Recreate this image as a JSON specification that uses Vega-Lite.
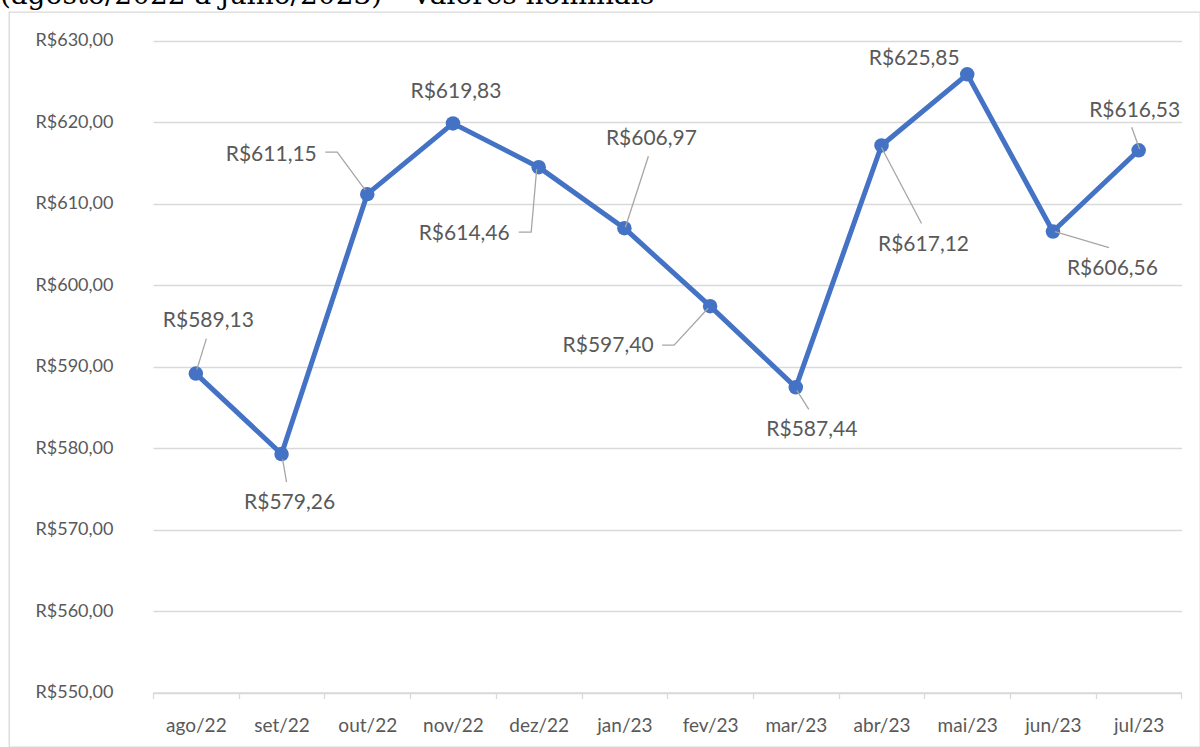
{
  "$schema": "https://vega.github.io/schema/vega-lite/v6.json",
  "autosize": {"type": "none"},
  "padding": {"left": 9, "top": 12, "right": 0, "bottom": 0},
  "width": 1191,
  "height": 735,
  "background": "#ffffff",
  "config": {
    "view": {"stroke": "#d9d9d9", "strokeWidth": 1.3},
    "locale": {"number": {"decimal": ",", "thousands": ".", "grouping": [3], "currency": ["R$", ""]}}
  },
  "title": {
    "text": "(agosto/2022 a julho/2023) – valores nominais",
    "orient": "top",
    "anchor": "start",
    "frame": "group",
    "font": "DejaVu Serif",
    "fontSize": 28,
    "fontWeight": "normal",
    "color": "#000000",
    "baseline": "alphabetic",
    "offset": 0,
    "dx": -9,
    "dy": 20
  },
  "data": {
    "values": [
      {"m": "ago/22", "v": 589.13},
      {"m": "set/22", "v": 579.26},
      {"m": "out/22", "v": 611.15},
      {"m": "nov/22", "v": 619.83},
      {"m": "dez/22", "v": 614.46},
      {"m": "jan/23", "v": 606.97},
      {"m": "fev/23", "v": 597.40},
      {"m": "mar/23", "v": 587.44},
      {"m": "abr/23", "v": 617.12},
      {"m": "mai/23", "v": 625.85},
      {"m": "jun/23", "v": 606.56},
      {"m": "jul/23", "v": 616.53}
    ]
  },
  "encoding": {
    "x": {
      "field": "m", "type": "ordinal", "sort": null, "title": null,
      "scale": {"range": [144, 1172.5], "paddingInner": 0, "paddingOuter": 0},
      "axis": {
        "orient": "bottom", "offset": -54.5, "grid": false,
        "domain": true, "domainColor": "#d9d9d9", "domainWidth": 1.3,
        "ticks": true, "tickBand": "extent", "tickSize": 6, "tickColor": "#d9d9d9", "tickWidth": 1.3,
        "labelFont": "Lato", "labelFontSize": 19, "labelColor": "#595959", "labelPadding": 18, "labelAngle": 0
      }
    },
    "y": {
      "field": "v", "type": "quantitative", "title": null,
      "scale": {"domain": [550, 630], "nice": false, "zero": false, "range": [680.5, 28.5]},
      "axis": {
        "orient": "left", "offset": -144,
        "values": [550, 560, 570, 580, 590, 600, 610, 620, 630],
        "format": "$.2f",
        "domain": false, "ticks": false,
        "grid": true, "gridColor": "#d9d9d9", "gridWidth": 1.3,
        "labelFont": "Lato", "labelFontSize": 18, "labelColor": "#595959", "labelPadding": 40
      }
    }
  },
  "layer": [
    {"mark": {"type": "line", "color": "#4472C4", "strokeWidth": 5, "strokeJoin": "round"}},
    {"mark": {"type": "point", "filled": true, "shape": "circle", "size": 210, "color": "#4472C4", "opacity": 1}},
    {"transform": [{"filter": "datum.m == 'ago/22'"}], "mark": {"type": "point", "filled": false, "shape": "M1,-4L10.5,-35", "size": 4, "stroke": "#a6a6a6", "strokeWidth": 1.3, "opacity": 1}},
    {"transform": [{"filter": "datum.m == 'set/22'"}], "mark": {"type": "point", "filled": false, "shape": "M1,5L5,28", "size": 4, "stroke": "#a6a6a6", "strokeWidth": 1.3, "opacity": 1}},
    {"transform": [{"filter": "datum.m == 'out/22'"}], "mark": {"type": "point", "filled": false, "shape": "M-2,-4L-30,-42L-42,-42", "size": 4, "stroke": "#a6a6a6", "strokeWidth": 1.3, "opacity": 1}},
    {"transform": [{"filter": "datum.m == 'dez/22'"}], "mark": {"type": "point", "filled": false, "shape": "M-2,2L-7.5,65L-20,65", "size": 4, "stroke": "#a6a6a6", "strokeWidth": 1.3, "opacity": 1}},
    {"transform": [{"filter": "datum.m == 'jan/23'"}], "mark": {"type": "point", "filled": false, "shape": "M1,-1L24,-72", "size": 4, "stroke": "#a6a6a6", "strokeWidth": 1.3, "opacity": 1}},
    {"transform": [{"filter": "datum.m == 'fev/23'"}], "mark": {"type": "point", "filled": false, "shape": "M-2,2L-36,39L-48,39", "size": 4, "stroke": "#a6a6a6", "strokeWidth": 1.3, "opacity": 1}},
    {"transform": [{"filter": "datum.m == 'mar/23'"}], "mark": {"type": "point", "filled": false, "shape": "M1,3L13,22", "size": 4, "stroke": "#a6a6a6", "strokeWidth": 1.3, "opacity": 1}},
    {"transform": [{"filter": "datum.m == 'abr/23'"}], "mark": {"type": "point", "filled": false, "shape": "M0,2L40,78", "size": 4, "stroke": "#a6a6a6", "strokeWidth": 1.3, "opacity": 1}},
    {"transform": [{"filter": "datum.m == 'jun/23'"}], "mark": {"type": "point", "filled": false, "shape": "M2,0L56,16", "size": 4, "stroke": "#a6a6a6", "strokeWidth": 1.3, "opacity": 1}},
    {"transform": [{"filter": "datum.m == 'jul/23'"}], "mark": {"type": "point", "filled": false, "shape": "M1,-1L-7,-23", "size": 4, "stroke": "#a6a6a6", "strokeWidth": 1.3, "opacity": 1}},
    {"transform": [{"filter": "datum.m == 'ago/22'"}], "mark": {"type": "text", "font": "Lato", "fontSize": 21, "color": "#595959", "align": "center", "baseline": "alphabetic", "dx": 12.5, "dy": -47}, "encoding": {"text": {"field": "v", "type": "quantitative", "format": "$.2f"}}},
    {"transform": [{"filter": "datum.m == 'set/22'"}], "mark": {"type": "text", "font": "Lato", "fontSize": 21, "color": "#595959", "align": "center", "baseline": "alphabetic", "dx": 8, "dy": 55}, "encoding": {"text": {"field": "v", "type": "quantitative", "format": "$.2f"}}},
    {"transform": [{"filter": "datum.m == 'out/22'"}], "mark": {"type": "text", "font": "Lato", "fontSize": 21, "color": "#595959", "align": "center", "baseline": "alphabetic", "dx": -96, "dy": -33}, "encoding": {"text": {"field": "v", "type": "quantitative", "format": "$.2f"}}},
    {"transform": [{"filter": "datum.m == 'nov/22'"}], "mark": {"type": "text", "font": "Lato", "fontSize": 21, "color": "#595959", "align": "center", "baseline": "alphabetic", "dx": 3, "dy": -25}, "encoding": {"text": {"field": "v", "type": "quantitative", "format": "$.2f"}}},
    {"transform": [{"filter": "datum.m == 'dez/22'"}], "mark": {"type": "text", "font": "Lato", "fontSize": 21, "color": "#595959", "align": "center", "baseline": "alphabetic", "dx": -74.5, "dy": 73}, "encoding": {"text": {"field": "v", "type": "quantitative", "format": "$.2f"}}},
    {"transform": [{"filter": "datum.m == 'jan/23'"}], "mark": {"type": "text", "font": "Lato", "fontSize": 21, "color": "#595959", "align": "center", "baseline": "alphabetic", "dx": 27, "dy": -83}, "encoding": {"text": {"field": "v", "type": "quantitative", "format": "$.2f"}}},
    {"transform": [{"filter": "datum.m == 'fev/23'"}], "mark": {"type": "text", "font": "Lato", "fontSize": 21, "color": "#595959", "align": "center", "baseline": "alphabetic", "dx": -102, "dy": 46}, "encoding": {"text": {"field": "v", "type": "quantitative", "format": "$.2f"}}},
    {"transform": [{"filter": "datum.m == 'mar/23'"}], "mark": {"type": "text", "font": "Lato", "fontSize": 21, "color": "#595959", "align": "center", "baseline": "alphabetic", "dx": 16, "dy": 49}, "encoding": {"text": {"field": "v", "type": "quantitative", "format": "$.2f"}}},
    {"transform": [{"filter": "datum.m == 'abr/23'"}], "mark": {"type": "text", "font": "Lato", "fontSize": 21, "color": "#595959", "align": "center", "baseline": "alphabetic", "dx": 42, "dy": 106}, "encoding": {"text": {"field": "v", "type": "quantitative", "format": "$.2f"}}},
    {"transform": [{"filter": "datum.m == 'mai/23'"}], "mark": {"type": "text", "font": "Lato", "fontSize": 21, "color": "#595959", "align": "center", "baseline": "alphabetic", "dx": -53, "dy": -9}, "encoding": {"text": {"field": "v", "type": "quantitative", "format": "$.2f"}}},
    {"transform": [{"filter": "datum.m == 'jun/23'"}], "mark": {"type": "text", "font": "Lato", "fontSize": 21, "color": "#595959", "align": "center", "baseline": "alphabetic", "dx": 59.5, "dy": 43}, "encoding": {"text": {"field": "v", "type": "quantitative", "format": "$.2f"}}},
    {"transform": [{"filter": "datum.m == 'jul/23'"}], "mark": {"type": "text", "font": "Lato", "fontSize": 21, "color": "#595959", "align": "center", "baseline": "alphabetic", "dx": -4, "dy": -33}, "encoding": {"text": {"field": "v", "type": "quantitative", "format": "$.2f"}}}
  ]
}
